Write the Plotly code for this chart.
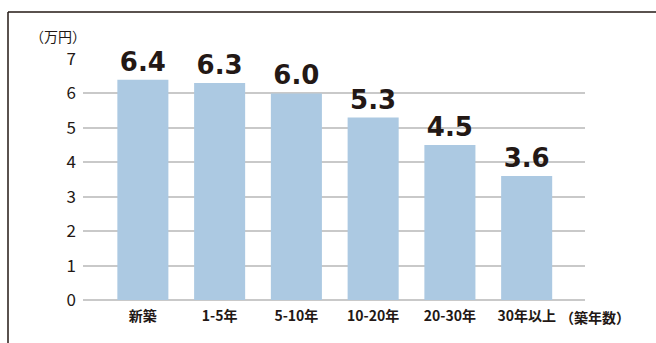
import plotly.graph_objects as go

categories = ["新築", "1-5年", "5-10年", "10-20年", "20-30年", "30年以上"]
values = [6.4, 6.3, 6.0, 5.3, 4.5, 3.6]
labels = ["6.4", "6.3", "6.0", "5.3", "4.5", "3.6"]
yticks = [0, 1, 2, 3, 4, 5, 6, 7]

W, H = 656, 343
L, R, T, B = 83, 71, 59, 43
pw, ph = W - L - R, H - T - B

dark = "#231815"
fig = go.Figure()
fig.add_trace(go.Bar(
    x=list(range(len(categories))), y=values,
    text=labels, textposition="outside", cliponaxis=False,
    textfont=dict(family="DejaVu Sans", size=26, color=dark, weight="bold"),
    marker=dict(color="#acc9e2", line=dict(width=0)),
    width=0.665,
))

fig.update_layout(
    width=W, height=H,
    margin=dict(l=L, r=R, t=T, b=B),
    paper_bgcolor="white", plot_bgcolor="white",
    showlegend=False,
    xaxis=dict(
        range=[-0.78, 5.76], tickmode="array",
        tickvals=list(range(len(categories))), ticktext=categories,
        showgrid=False, zeroline=False, showline=False, ticks="",
        ticklabelstandoff=6,
        tickfont=dict(family="Noto Sans CJK JP", size=14, color=dark, weight="bold"),
    ),
    yaxis=dict(
        range=[0, 7], tickmode="array", tickvals=yticks,
        showgrid=True, gridcolor="#c9c9c9", gridwidth=1.5,
        zeroline=True, zerolinecolor="#c9c9c9", zerolinewidth=2,
        showline=False, ticks="",
        ticklabelstandoff=6,
        tickfont=dict(family="Noto Sans CJK JP", size=17, color=dark),
    ),
)

# border (left and top) of the frame
x0 = (8 - L) / pw
ytop = 1 + (T - 12) / ph
fig.add_shape(type="line", xref="paper", yref="paper", x0=x0, x1=(W - L + 5) / pw,
              y0=ytop, y1=ytop, line=dict(color=dark, width=1.5))
fig.add_shape(type="line", xref="paper", yref="paper", x0=x0, x1=x0,
              y0=ytop, y1=-(B + 5) / ph, line=dict(color=dark, width=1.5))

fig.add_annotation(xref="paper", yref="paper", x=(28 - L) / pw, y=1 + (T - 36) / ph,
                   text="（万円）", showarrow=False, xanchor="left", yanchor="middle",
                   font=dict(family="Noto Sans CJK JP", size=14, color=dark))
fig.add_annotation(xref="paper", yref="paper", x=(558 - L) / pw, y=-(317 - (T + ph)) / ph,
                   text="（築年数）", showarrow=False, xanchor="left", yanchor="middle",
                   font=dict(family="Noto Sans CJK JP", size=14, color=dark, weight="bold"))

fig.write_html("out.html")
